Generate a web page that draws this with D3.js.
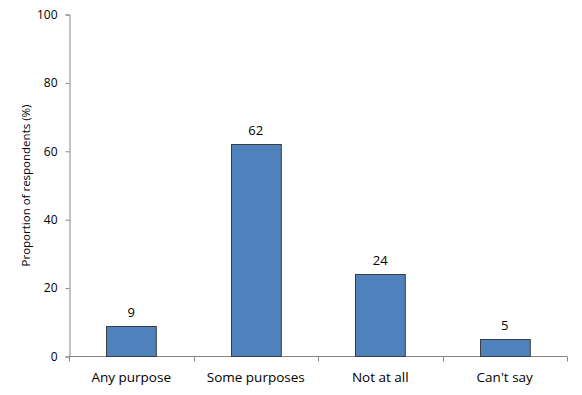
<!DOCTYPE html>
<html>
<head>
<meta charset="utf-8">
<script src="https://cdn.jsdelivr.net/npm/d3@7"></script>
<style>
  body { margin: 0; background: #fff; }
  text { font-family: "Open Sans", "Liberation Sans", sans-serif; fill: #000; }
</style>
</head>
<body>
<div id="chart"></div>
<script>
// data
const categories = ['Any purpose', 'Some purposes', 'Not at all', "Can't say"]
const values = [9, 62, 24, 5]
const yTicks = [0, 20, 40, 60, 80, 100]

const W = 582, H = 395
const m = {top: 14, right: 15, bottom: 38, left: 69}

const svg = d3.select('#chart').append('svg')
  .attr('width', W)
  .attr('height', H)

const x = d3.scaleBand()
  .domain(categories)
  .range([m.left, W - m.right])
  .paddingInner(0.6)
  .paddingOuter(0.3)

const y = d3.scaleLinear()
  .domain([0, 100])
  .range([H - m.bottom - 0.5, m.top + 0.5])

// y axis
const yAxis = svg.append('g')
  .attr('transform', `translate(${m.left + 0.5},0)`)
  .call(d3.axisLeft(y).tickValues(yTicks).tickSize(4).tickPadding(8))
yAxis.select('.domain').attr('stroke', '#868686')
yAxis.selectAll('line').attr('stroke', '#868686')
yAxis.selectAll('text').style('font-size', '12px')

// x axis, ticks between categories
const xAxis = svg.append('g')
  .attr('transform', `translate(0,${y(0)})`)
xAxis.append('line')
  .attr('x1', m.left).attr('x2', W - m.right)
  .attr('stroke', '#868686')
const step = (W - m.right - m.left) / categories.length
xAxis.selectAll('.tk')
  .data(d3.range(categories.length + 1))
  .enter()
  .append('line')
  .attr('x1', i => Math.round(m.left + i * step) + 0.5)
  .attr('x2', i => Math.round(m.left + i * step) + 0.5)
  .attr('y1', 0).attr('y2', 5)
  .attr('stroke', '#868686')
xAxis.selectAll('.lb')
  .data(categories)
  .enter()
  .append('text')
  .attr('x', d => x(d) + x.bandwidth() / 2)
  .attr('y', 25)
  .attr('text-anchor', 'middle')
  .style('font-size', '13.5px')
  .text(d => d)

// bars
svg.selectAll('rect')
  .data(values)
  .enter()
  .append('rect')
  .attr('x', (d, i) => Math.round(x(categories[i])) + 0.5)
  .attr('y', d => Math.round(y(d)) + 0.5)
  .attr('width', x.bandwidth())
  .attr('height', d => y(0) - Math.round(y(d)) - 0.5)
  .attr('fill', '#4F81BD')
  .attr('stroke', '#3c3c3c')
  .attr('stroke-width', 1)

// value labels
svg.selectAll('.val')
  .data(values)
  .enter()
  .append('text')
  .attr('x', (d, i) => x(categories[i]) + x.bandwidth() / 2)
  .attr('y', d => y(d) - 9)
  .attr('text-anchor', 'middle')
  .style('font-size', '13px')
  .text(d => d)

// y label
svg.append('text')
  .attr('transform', `translate(30,${(y(0) + y(100)) / 2}) rotate(-90)`)
  .attr('text-anchor', 'middle')
  .style('font-size', '11.5px')
  .text('Proportion of respondents (%)')
</script>
</body>
</html>
